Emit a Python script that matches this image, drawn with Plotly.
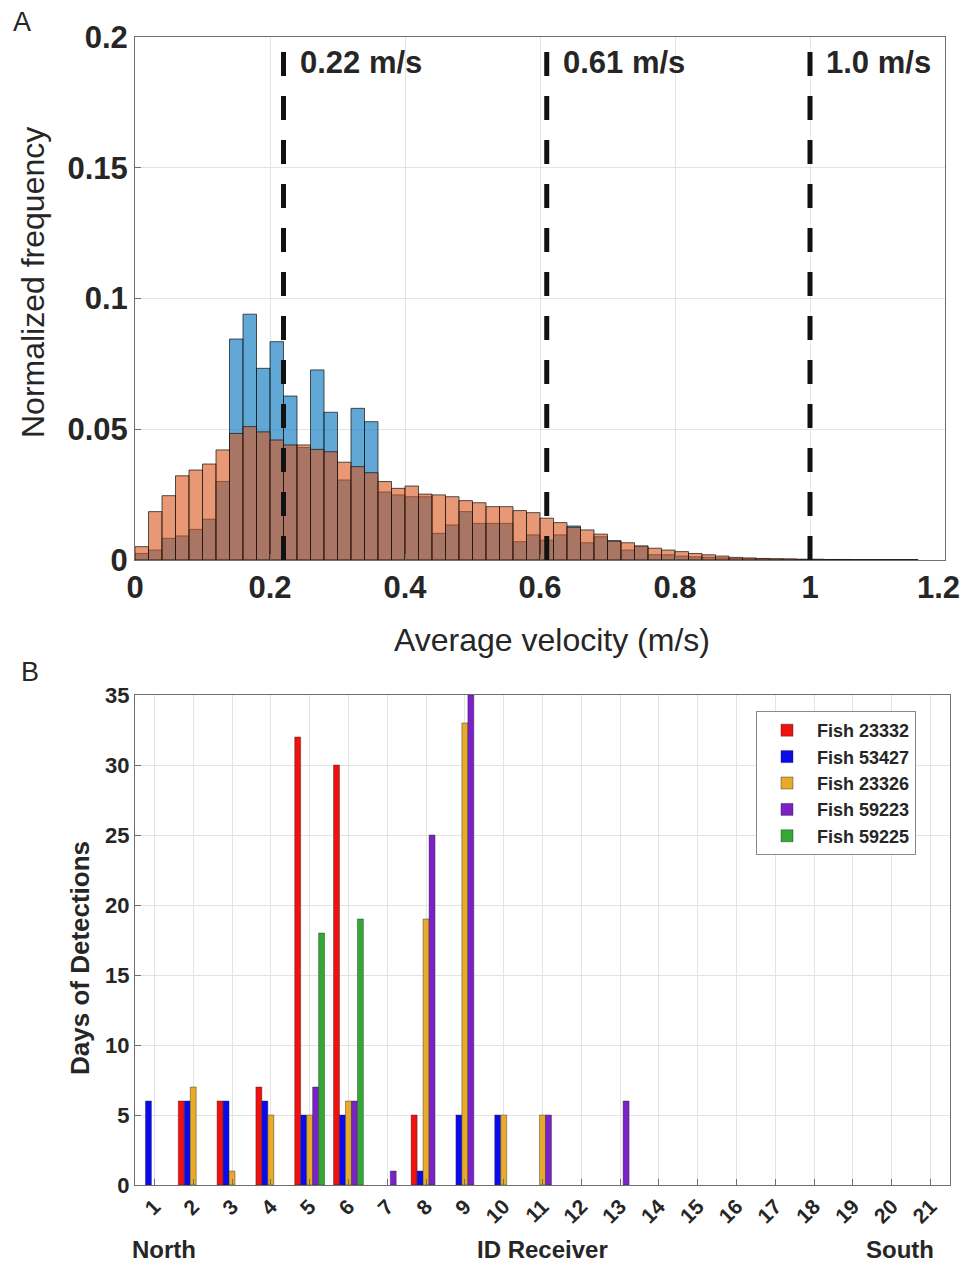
import plotly.graph_objects as go

# ---------------- Panel A data ----------------
bin_width = 0.02
bin_starts = [round(i * bin_width, 2) for i in range(58)]  # 0.00 ... 1.14

freq_blue = [0.0025, 0.0038, 0.0083, 0.0092, 0.0117, 0.0156, 0.0300, 0.0845, 0.0940, 0.0733,
             0.0835, 0.0627, 0.0430, 0.0727, 0.0565, 0.0306, 0.0580, 0.0529, 0.0260, 0.0249,
             0.0242, 0.0242, 0.0102, 0.0134, 0.0185, 0.0140, 0.0140, 0.0140, 0.0070, 0.0096,
             0.0076, 0.0096, 0.0130, 0.0066, 0.0089, 0.0074, 0.0038, 0.0052, 0.0020, 0.0020,
             0.0015, 0.0012, 0.0010, 0.0008, 0.0006, 0.0005, 0.0004, 0.0003, 0.0003, 0.0002,
             0.0002, 0.0001, 0.0001, 0.0001, 0.0001, 0.0001, 0.0001, 0.0001]

freq_orange = [0.0051, 0.0185, 0.0246, 0.0322, 0.0344, 0.0367, 0.0421, 0.0484, 0.0510, 0.0490,
               0.0459, 0.0440, 0.0440, 0.0423, 0.0414, 0.0374, 0.0357, 0.0334, 0.0300, 0.0274,
               0.0283, 0.0252, 0.0249, 0.0242, 0.0227, 0.0219, 0.0204, 0.0204, 0.0189, 0.0181,
               0.0160, 0.0143, 0.0125, 0.0115, 0.0099, 0.0072, 0.0066, 0.0054, 0.0045, 0.0038,
               0.0032, 0.0025, 0.0020, 0.0015, 0.0010, 0.0008, 0.0006, 0.0005, 0.0004, 0.0003,
               0.0003, 0.0002, 0.0002, 0.0001, 0.0001, 0.0001, 0.0001, 0.0001]

threshold_speeds = [0.22, 0.61, 1.0]
threshold_labels = ["0.22 m/s", "0.61 m/s", "1.0 m/s"]

velocity_ticks = [0, 0.2, 0.4, 0.6, 0.8, 1, 1.2]
velocity_tick_text = ["0", "0.2", "0.4", "0.6", "0.8", "1", "1.2"]
freq_ticks = [0, 0.05, 0.1, 0.15, 0.2]
freq_tick_text = ["0", "0.05", "0.1", "0.15", "0.2"]

# ---------------- Panel B data ----------------
receivers = list(range(1, 22))
fish_names = ["Fish 23332", "Fish 53427", "Fish 23326", "Fish 59223", "Fish 59225"]
fish_23332 = [0, 6, 6, 7, 32, 30, 0, 5, 0, 0, 0, 0, 0, 0, 0, 0, 0, 0, 0, 0, 0]
fish_53427 = [6, 6, 6, 6, 5, 5, 0, 1, 5, 5, 0, 0, 0, 0, 0, 0, 0, 0, 0, 0, 0]
fish_23326 = [0, 7, 1, 5, 5, 6, 0, 19, 33, 5, 5, 0, 0, 0, 0, 0, 0, 0, 0, 0, 0]
fish_59223 = [0, 0, 0, 0, 7, 6, 1, 25, 35, 0, 5, 0, 6, 0, 0, 0, 0, 0, 0, 0, 0]
fish_59225 = [0, 0, 0, 0, 18, 19, 0, 0, 0, 0, 0, 0, 0, 0, 0, 0, 0, 0, 0, 0, 0]
fish_colors = ["#f01010", "#0a0af0", "#e8aa28", "#7a22c8", "#34a834"]
days_ticks = [0, 5, 10, 15, 20, 25, 30, 35]

# ---------------- Figure ----------------
FONT = "Liberation Sans, Arial, Helvetica, sans-serif"
TXT = "#262626"
W, H = 970, 1262
OFF = 8  # page body margin offset


def px(x):
    return (x - OFF) / W


def py(y):
    return 1 - (y - OFF) / H


fig = go.Figure()

bin_centers = [b + bin_width / 2 for b in bin_starts]
fig.add_trace(go.Bar(x=bin_centers, y=freq_blue, width=bin_width, offset=-bin_width / 2,
                     marker=dict(color="rgba(0,114,189,0.62)", line=dict(color="rgba(20,20,20,0.9)", width=0.8)),
                     xaxis="x", yaxis="y", showlegend=False, name="Fish (detail)"))
fig.add_trace(go.Bar(x=bin_centers, y=freq_orange, width=bin_width, offset=-bin_width / 2,
                     marker=dict(color="rgba(217,83,25,0.6)", line=dict(color="rgba(20,20,20,0.9)", width=0.8)),
                     xaxis="x", yaxis="y", showlegend=False, name="All"))

for name, vals, col in zip(fish_names, [fish_23332, fish_53427, fish_23326, fish_59223, fish_59225], fish_colors):
    fig.add_trace(go.Bar(x=receivers, y=[v if v else None for v in vals], name=name,
                         marker=dict(color=col, line=dict(color="rgba(40,40,40,0.7)", width=0.6)),
                         xaxis="x2", yaxis="y2"))

# dashed threshold lines and labels
for v, lab in zip(threshold_speeds, threshold_labels):
    fig.add_shape(type="line", xref="x", yref="y domain", x0=v, x1=v, y0=0, y1=1,
                  line=dict(color="#111111", width=5, dash="24px,20px"))
    fig.add_annotation(x=v, xref="x", y=0.952, yref="y domain", text=lab, showarrow=False,
                       xanchor="left", yanchor="middle", xshift=14,
                       font=dict(family=FONT, size=31, color=TXT, weight="bold"))

# last velocity tick label kept inside the visible page
fig.add_annotation(x=px(962), y=py(587), xref="paper", yref="paper", text=velocity_tick_text[-1],
                   showarrow=False, xanchor="right", yanchor="middle",
                   font=dict(family=FONT, size=31, color=TXT, weight="bold"))

# panel letters, axis titles placed like the reference, direction labels
fig.add_annotation(x=px(22), y=py(22), xref="paper", yref="paper", text="A", showarrow=False,
                   xanchor="center", yanchor="middle", font=dict(family=FONT, size=27, color=TXT))
fig.add_annotation(x=px(30), y=py(672), xref="paper", yref="paper", text="B", showarrow=False,
                   xanchor="center", yanchor="middle", font=dict(family=FONT, size=27, color=TXT))
fig.add_annotation(x=px(33), y=py(283), xref="paper", yref="paper", text="Normalized frequency",
                   showarrow=False, textangle=-90, xanchor="center", yanchor="middle",
                   font=dict(family=FONT, size=32, color=TXT))
fig.add_annotation(x=px(552), y=py(640), xref="paper", yref="paper", text="Average velocity (m/s)",
                   showarrow=False, xanchor="center", yanchor="middle",
                   font=dict(family=FONT, size=32, color=TXT))
fig.add_annotation(x=px(80), y=py(958), xref="paper", yref="paper", text="Days of Detections",
                   showarrow=False, textangle=-90, xanchor="center", yanchor="middle",
                   font=dict(family=FONT, size=26, color=TXT, weight="bold"))
fig.add_annotation(x=px(130), y=py(1249), xref="paper", yref="paper", text="North", showarrow=False,
                   xanchor="left", yanchor="middle", font=dict(family=FONT, size=24, color=TXT, weight="bold"))
fig.add_annotation(x=px(936), y=py(1249), xref="paper", yref="paper", text="South", showarrow=False,
                   xanchor="right", yanchor="middle", font=dict(family=FONT, size=24, color=TXT, weight="bold"))
fig.add_annotation(x=px(542), y=py(1249), xref="paper", yref="paper", text="ID Receiver", showarrow=False,
                   xanchor="center", yanchor="middle", font=dict(family=FONT, size=24, color=TXT, weight="bold"))

axis_common = dict(showline=True, linecolor="#6e6e6e", linewidth=1, mirror=True,
                   showgrid=True, gridcolor="#e4e4e4", gridwidth=1, zeroline=False,
                   ticks="inside", ticklen=6, tickcolor="#6e6e6e", automargin=False)

fig.update_layout(
    width=W, height=H, autosize=False,
    margin=dict(l=0, r=0, t=0, b=0),
    paper_bgcolor="white", plot_bgcolor="white",
    barmode="group", bargap=0.23, bargroupgap=0.0,
    font=dict(family=FONT, color=TXT),
    xaxis=dict(domain=[px(135), px(945)], anchor="y", range=[0, 1.2],
               tickvals=velocity_ticks, ticktext=velocity_tick_text[:-1] + [""],
               tickfont=dict(size=31, weight="bold", color=TXT),
               **axis_common),
    yaxis=dict(domain=[py(560), py(37)], anchor="x", range=[0, 0.2],
               tickvals=freq_ticks, ticktext=freq_tick_text,
               tickfont=dict(size=31, weight="bold", color=TXT),
               **axis_common),
    xaxis2=dict(domain=[px(135), px(950)], anchor="y2", range=[0.5, 21.5],
                tickvals=receivers, ticktext=[str(r) for r in receivers], tickangle=-45,
                tickfont=dict(size=21, weight="bold", color=TXT),
                **axis_common),
    yaxis2=dict(domain=[py(1185), py(695)], anchor="x2", range=[0, 35],
                tickvals=days_ticks,
                tickfont=dict(size=22, weight="bold", color=TXT),
                **axis_common),
    legend=dict(x=px(756), y=py(711), xanchor="left", yanchor="top",
                bgcolor="white", bordercolor="#8a8a8a", borderwidth=1,
                font=dict(family=FONT, size=18, color=TXT, weight="bold"),
                itemwidth=50, tracegroupgap=0),
)

fig.write_html("out.html")
